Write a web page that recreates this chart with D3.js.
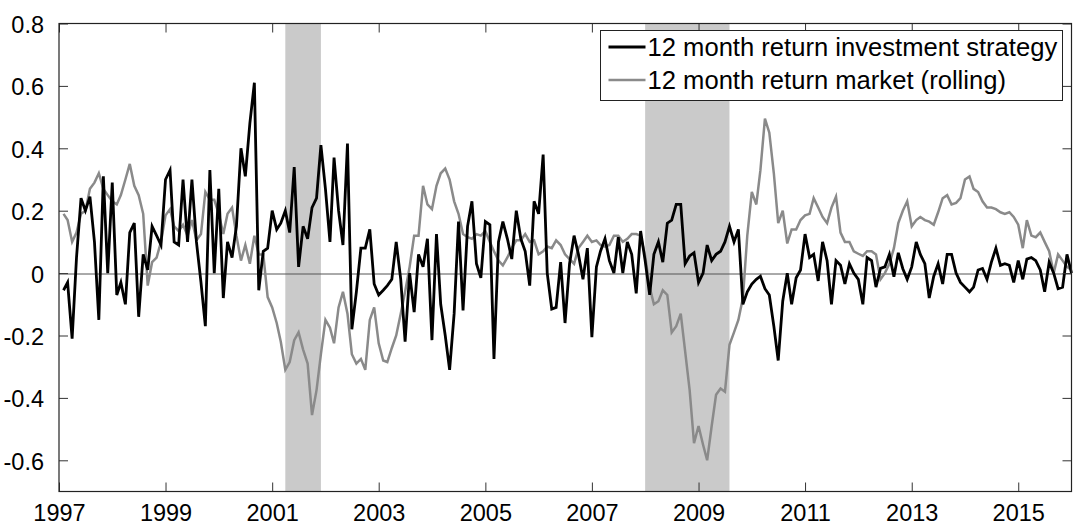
<!DOCTYPE html>
<html>
<head>
<meta charset="utf-8">
<script src="https://cdn.jsdelivr.net/npm/d3@7"></script>
<style>
  html, body { margin: 0; padding: 0; background: #fff; }
  #chart { width: 1073px; height: 525px; }
  text { font-family: "Liberation Sans", Arial, sans-serif; fill: #000; }
</style>
</head>
<body>
<div id="chart"></div>
<script>
// Monthly values, first observation Feb 1997.
var startMonth = [1997, 1];

var strategy = [
  -0.055, -0.03, -0.21, 0.05, 0.24, 0.2, 0.245, 0.1, -0.15, 0.31, 0.0, 0.29,
  -0.07, -0.03, -0.1, 0.13, 0.16, -0.14, 0.06, 0.01, 0.15, 0.12, 0.09, 0.3,
  0.33, 0.1, 0.09, 0.3, 0.1, 0.3, 0.1, -0.03, -0.17, 0.33, 0.0, 0.27,
  -0.08, 0.1, 0.05, 0.15, 0.4, 0.31, 0.48, 0.61, -0.055, 0.07, 0.08, 0.2,
  0.14, 0.16, 0.2, 0.13, 0.34, 0.02, 0.15, 0.11, 0.21, 0.24, 0.41, 0.27,
  0.1, 0.37, 0.2, 0.09, 0.415, -0.18, -0.06, 0.08, 0.08, 0.14, -0.035, -0.07,
  -0.055, -0.04, -0.02, 0.1, -0.02, -0.22, 0.0, -0.125, 0.06, 0.02, 0.11, -0.215,
  0.125, -0.1, -0.2, -0.31, -0.13, 0.165, -0.12, 0.15, 0.23, 0.03, -0.015, 0.165,
  0.155, -0.275, 0.1, 0.165, 0.11, 0.045, 0.2, 0.11, 0.07, -0.04, 0.23, 0.19,
  0.38, 0.0, -0.115, -0.11, 0.035, -0.16, 0.03, 0.12, 0.06, -0.02, 0.08, -0.205,
  0.02, 0.07, 0.11, 0.04, 0.0, 0.115, 0.0, 0.1, 0.06, -0.065, 0.135, 0.04,
  -0.07, 0.06, 0.1, 0.035, 0.16, 0.17, 0.22, 0.22, 0.03, 0.055, 0.065, -0.03,
  0.0, 0.09, 0.04, 0.06, 0.07, 0.1, 0.15, 0.1, 0.14, -0.1, -0.06, -0.035,
  -0.02, -0.01, -0.05, -0.07, -0.17, -0.28, -0.09, 0.0, -0.1, -0.015, 0.01, 0.125,
  0.05, 0.06, -0.025, 0.1, 0.04, -0.1, 0.04, 0.025, -0.035, 0.03, 0.0, -0.02,
  -0.1, 0.05, 0.04, -0.045, 0.015, 0.02, 0.06, -0.012, 0.065, 0.014, -0.02, 0.02,
  0.1, 0.06, 0.03, -0.08, -0.01, 0.03, -0.035, 0.06, 0.06, 0.0, -0.03, -0.045,
  -0.06, -0.045, 0.01, 0.015, -0.02, 0.035, 0.08, 0.025, 0.03, 0.025, -0.03, 0.04,
  -0.02, 0.045, 0.05, 0.04, 0.01, -0.06, 0.035, 0.0, -0.05, -0.045, 0.06, 0.0
];

var market = [
  0.19, 0.17, 0.1, 0.13, 0.19, 0.2, 0.27, 0.29, 0.32, 0.27, 0.25, 0.23,
  0.22, 0.25, 0.3, 0.35, 0.28, 0.25, 0.19, -0.04, 0.035, 0.05, 0.1, 0.185,
  0.205, 0.15, 0.135, 0.155, 0.12, 0.17, 0.105, 0.125, 0.26, 0.235, 0.235, 0.19,
  0.125, 0.19, 0.21, 0.12, 0.04, 0.09, 0.03, 0.12, 0.06, 0.06, -0.077, -0.11,
  -0.16, -0.22, -0.31, -0.285, -0.215, -0.19, -0.245, -0.29, -0.455, -0.375, -0.26, -0.15,
  -0.175, -0.225, -0.11, -0.06, -0.13, -0.26, -0.29, -0.275, -0.31, -0.15, -0.11, -0.225,
  -0.28, -0.285, -0.24, -0.2, -0.13, -0.06, 0.02, 0.12, 0.12, 0.28, 0.22, 0.205,
  0.28, 0.32, 0.335, 0.3, 0.23, 0.19, 0.125, 0.115, 0.11, 0.125, 0.12, 0.135,
  0.1, 0.07, 0.04, 0.025, 0.05, 0.08, 0.105, 0.105, 0.125, 0.1, 0.105, 0.06,
  0.07, 0.085, 0.08, 0.105, 0.09, 0.06, 0.045, 0.03, 0.08, 0.1, 0.12, 0.1,
  0.105, 0.09, 0.085, 0.09, 0.12, 0.12, 0.1, 0.11, 0.125, 0.125, 0.12, 0.055,
  -0.045, -0.1, -0.09, -0.055, -0.07, -0.19, -0.17, -0.13, -0.25, -0.375, -0.545, -0.49,
  -0.55, -0.6, -0.49, -0.39, -0.37, -0.38, -0.23, -0.19, -0.15, -0.08, 0.12, 0.26,
  0.22, 0.33, 0.495, 0.45, 0.32, 0.16, 0.2, 0.095, 0.14, 0.14, 0.17, 0.185,
  0.19, 0.24, 0.21, 0.18, 0.16, 0.21, 0.245, 0.13, 0.1, 0.1, 0.07, 0.062,
  0.055, 0.07, 0.07, 0.06, -0.02, 0.0, 0.03, 0.08, 0.16, 0.2, 0.23, 0.15,
  0.17, 0.18, 0.17, 0.165, 0.155, 0.195, 0.24, 0.25, 0.22, 0.225, 0.24, 0.3,
  0.31, 0.27, 0.26, 0.23, 0.21, 0.21, 0.205, 0.195, 0.19, 0.195, 0.18, 0.155,
  0.08, 0.17, 0.12, 0.115, 0.13, 0.1, 0.07, 0.0, 0.06, 0.04, 0.02, 0.01
];

// Shaded periods (recessions), [start, end] as year-month
var recessions = [
  [[2001, 3], [2001, 11]],
  [[2008, 0], [2009, 7]]
];

var yTicks = [-0.6, -0.4, -0.2, 0, 0.2, 0.4, 0.6, 0.8];
var xTickYears = [1997, 1999, 2001, 2003, 2005, 2007, 2009, 2011, 2013, 2015];
var seriesNames = ['12 month return investment strategy', '12 month return market (rolling)'];

(function() {
  var W = 1073, H = 525,
      margin = {top: 23.5, right: 1.5, bottom: 33.5, left: 59},
      w = W - margin.left - margin.right,
      h = H - margin.top - margin.bottom,
      tickLen = 9;

  var monthDate = function(i) {
    return new Date(startMonth[0], startMonth[1] + i, 1);
  };

  var x = d3.scaleTime()
      .domain([new Date(1997, 0, 1), new Date(2016, 0, 1)])
      .range([0, w]);
  var y = d3.scaleLinear().domain([-0.7, 0.8]).range([h, 0]);

  var svg = d3.select('#chart').append('svg')
      .attr('width', W)
      .attr('height', H);
  var g = svg.append('g')
      .attr('transform', 'translate(' + margin.left + ',' + margin.top + ')');

  // shaded periods
  g.selectAll('rect.shade').data(recessions)
    .enter().append('rect')
      .attr('class', 'shade')
      .attr('x', function(d) { return x(new Date(d[0][0], d[0][1], 1)); })
      .attr('width', function(d) {
        return x(new Date(d[1][0], d[1][1], 1)) - x(new Date(d[0][0], d[0][1], 1));
      })
      .attr('y', 0)
      .attr('height', h)
      .attr('fill', '#cacaca');

  // zero line
  g.append('line')
      .attr('x1', 0).attr('x2', w)
      .attr('y1', Math.round(y(0)) + 0.5).attr('y2', Math.round(y(0)) + 0.5)
      .attr('stroke', '#555')
      .attr('stroke-width', 1);

  var line = d3.line()
      .x(function(d, i) { return x(monthDate(i)); })
      .y(function(d) { return y(d); });

  g.append('path')
      .datum(market)
      .attr('d', line)
      .attr('fill', 'none')
      .attr('stroke', '#8a8a8a')
      .attr('stroke-width', 2.5);

  g.append('path')
      .datum(strategy)
      .attr('d', line)
      .attr('fill', 'none')
      .attr('stroke', '#000')
      .attr('stroke-width', 2.8);

  // axes, MATLAB style: box with inward ticks on all four sides
  var xTicks = xTickYears.map(function(yr) { return new Date(yr, 0, 1); });

  // plain hyphen for negatives, like the original
  var fmtY = function(v) {
    return v === 0 ? '0' : (v < 0 ? '-' : '') + Math.abs(v).toFixed(1);
  };

  var bottom = g.append('g')
      .attr('transform', 'translate(0,' + h + ')')
      .call(d3.axisBottom(x).tickValues(xTicks).tickSizeInner(-tickLen)
          .tickSizeOuter(0).tickPadding(tickLen + 4).tickFormat(d3.timeFormat('%Y')));
  var top = g.append('g')
      .call(d3.axisTop(x).tickValues(xTicks).tickSizeInner(-tickLen)
          .tickSizeOuter(0).tickFormat(''));
  var left = g.append('g')
      .call(d3.axisLeft(y).tickValues(yTicks).tickSizeInner(-tickLen)
          .tickSizeOuter(0).tickPadding(tickLen + 6).tickFormat(fmtY));
  var right = g.append('g')
      .attr('transform', 'translate(' + w + ',0)')
      .call(d3.axisRight(y).tickValues(yTicks).tickSizeInner(-tickLen)
          .tickSizeOuter(0).tickFormat(''));

  [bottom, top, left, right].forEach(function(a) {
    a.select('.domain').remove();
    a.selectAll('line').attr('stroke', '#333');
    a.selectAll('text').attr('font-size', '23.5px')
        .attr('font-family', '"Liberation Sans", Arial, sans-serif')
        .attr('fill', '#000');
  });
  bottom.selectAll('text').attr('dy', '0.7em');
  left.selectAll('text').attr('dy', '0.38em');

  g.append('rect')
      .attr('x', 0).attr('y', 0)
      .attr('width', w).attr('height', h)
      .attr('fill', 'none')
      .attr('stroke', '#222')
      .attr('stroke-width', 1.2);

  // legend
  var lg = svg.append('g').attr('transform', 'translate(600.5,30.5)');
  lg.append('rect')
      .attr('width', 462).attr('height', 70)
      .attr('fill', '#fff')
      .attr('stroke', '#222')
      .attr('stroke-width', 1);
  var colors = ['#000', '#8a8a8a'];
  var items = lg.selectAll('g.item').data(seriesNames)
    .enter().append('g')
      .attr('class', 'item')
      .attr('transform', function(d, i) { return 'translate(0,' + (16.5 + i * 33) + ')'; });
  items.append('line')
      .attr('x1', 8).attr('x2', 45)
      .attr('stroke', function(d, i) { return colors[i]; })
      .attr('stroke-width', function(d, i) { return i === 0 ? 2.8 : 2.5; });
  items.append('text')
      .attr('x', 47)
      .attr('dy', '0.36em')
      .attr('font-size', '25.6px')
      .text(function(d) { return d; });
})();
</script>
</body>
</html>
